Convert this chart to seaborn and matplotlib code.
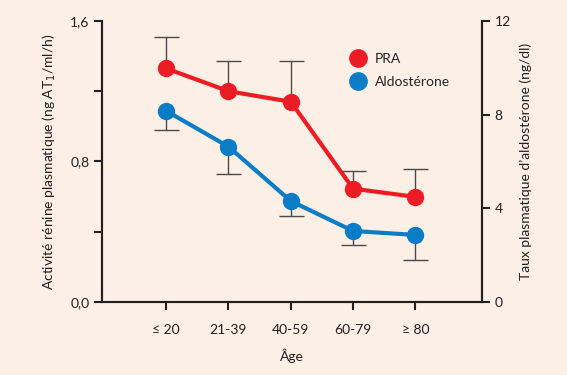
import numpy as np
import pandas as pd
import seaborn as sns
import matplotlib.pyplot as plt
from matplotlib.lines import Line2D

# values
ages = ['≤ 20', '21-39', '40-59', '60-79', '≥ 80']
pra = [1.33, 1.20, 1.14, 0.645, 0.598]          # ng AT1/ml/h
pra_err_up = [0.18, 0.17, 0.23, 0.10, 0.16]
aldo = [8.16, 6.63, 4.31, 3.03, 2.86]           # ng/dl
aldo_err_down = [0.81, 1.16, 0.64, 0.60, 1.07]

bg = '#fcefe5'
red = '#ed1c24'
blue = '#0a7dc6'
errc = '#4a4a4a'
txt = '#231f20'

sns.set_style('ticks')
plt.rcParams['font.family'] = ['Lato', 'DejaVu Sans']
plt.rcParams['axes.facecolor'] = bg
plt.rcParams['figure.facecolor'] = bg

df = pd.DataFrame({'pos': np.arange(len(ages)), 'age': ages, 'PRA': pra, 'Aldo': aldo})

fig = plt.figure(figsize=(5.67, 3.75), dpi=100)
ax = fig.add_axes([0.18, 0.195, 0.67, 0.749])
ax2 = ax.twinx()

# error bars (one-sided): hide the cap on the zero side
eb1 = ax.errorbar(df['pos'], df['PRA'], yerr=[np.zeros(5), pra_err_up], fmt='none',
                  ecolor=errc, elinewidth=1.0, capsize=9, capthick=1.0, zorder=1)
eb1[1][0].set_visible(False)
eb2 = ax2.errorbar(df['pos'], df['Aldo'], yerr=[aldo_err_down, np.zeros(5)], fmt='none',
                   ecolor=errc, elinewidth=1.0, capsize=9, capthick=1.0, zorder=1)
eb2[1][1].set_visible(False)

sns.lineplot(data=df, x='pos', y='PRA', ax=ax, color=red, lw=3, marker='o',
             markersize=12.5, markeredgewidth=0, zorder=3)
sns.lineplot(data=df, x='pos', y='Aldo', ax=ax2, color=blue, lw=3, marker='o',
             markersize=12.5, markeredgewidth=0, zorder=3)

ax.set_xlim(-1.03, 5.07)
ax.set_ylim(0, 1.6)
ax2.set_ylim(0, 12)
ax.set_xticks(df['pos'])
ax.set_xticklabels(ages)
ax.set_yticks([0, 0.4, 0.8, 1.2, 1.6])
ax.set_yticklabels(['0,0', '', '0,8', '', '1,6'])
ax2.set_yticks([0, 4, 8, 12])

ax.set_xlabel('Âge', fontsize=10, color=txt, labelpad=9)
ax.set_ylabel('Activité rénine plasmatique (ng AT$_1$/ml/h)', fontsize=10, color=txt, labelpad=9)
ax2.set_ylabel('Taux plasmatique d\u2019aldostérone (ng/dl)', fontsize=10, color=txt, labelpad=6)

for a in (ax, ax2):
    a.spines['top'].set_visible(False)
    for s in ('left', 'right', 'bottom'):
        a.spines[s].set_linewidth(1.5)
        a.spines[s].set_color(txt)
    a.tick_params(width=1.5, length=6, labelsize=10, colors=txt, pad=3)
ax.tick_params(axis='x', pad=10)
ax.patch.set_visible(False)
ax2.patch.set_visible(False)
ax.set_zorder(2)

handles = [Line2D([], [], ls='none', marker='o', color=red, markersize=12.5),
           Line2D([], [], ls='none', marker='o', color=blue, markersize=12.5)]
ax.legend(handles, ['PRA', 'Aldostérone'], frameon=False, loc='upper left',
          bbox_to_anchor=(0.605, 0.93), handletextpad=0.2, labelspacing=0.75,
          fontsize=10)

fig.savefig('out.png', dpi=100, facecolor=bg)
